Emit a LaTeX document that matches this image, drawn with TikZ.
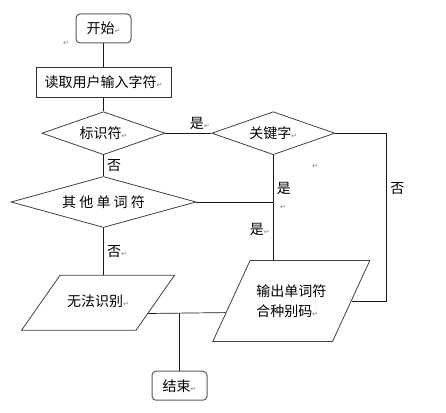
\documentclass[tikz,border=0pt]{standalone}
\usepackage{fontspec}
\setmainfont{Noto Sans CJK SC}
\newfontfamily\retfont{DejaVu Sans}
\usetikzlibrary{shapes.geometric, positioning}

\newcommand{\ret}{{\retfont\fontsize{7}{7}\selectfont\color{gray}\char"21B5}}

\tikzset{
    term/.style={rectangle, rounded corners=4pt, draw=black!65, line width=1pt,
        minimum width=55pt, minimum height=29pt},
    proc/.style={rectangle, draw=black!80, line width=0.8pt,
        minimum width=135pt, minimum height=30pt},
    dec/.style={diamond, aspect=2.8, inner sep=0pt, draw=black!75, line width=0.8pt},
    io/.style={trapezium, trapezium stretches body, draw=black!75, line width=0.8pt,
        inner xsep=2pt},
    flow/.style={draw=black!90, line width=0.7pt}
}

\begin{document}
\begin{tikzpicture}[x=1pt, y=-1pt, font=\fontsize{14}{20}\selectfont]
    \useasboundingbox (0,0) rectangle (446,412);
    % Add the nodes
        \node[term] (start) at (103.5,28.5) {开始\ret};
        \node[proc,
            below=23pt of start] (read) {读取用户输入字符\ret};
        \node[dec,
            below=14pt of read,
            minimum width=123pt,
            minimum height=43pt] (ident) {标识符\ret};
        \node[dec,
            right=46pt of ident,
            minimum width=123pt,
            minimum height=43pt] (keyw) {关键字\ret};
        \node[dec,
            below=21pt of ident,
            minimum width=185pt,
            minimum height=51pt] (other) {其 他 单 词 符};
        \node[io,
            below=47pt of other,
            xshift=-5.5pt,
            text height=10pt,
            text depth=3pt,
            inner ysep=21pt,
            trapezium left angle=55,
            trapezium right angle=125,
            minimum width=153pt,
            minimum height=55pt] (unknown) {无法识别\ret};
        \node[io,
            below=105pt of keyw,
            xshift=18pt,
            align=left,
            inner ysep=23.5pt,
            trapezium left angle=65,
            trapezium right angle=115,
            minimum width=157pt,
            minimum height=81pt] (output) {输出单词符\\合种别码\ret};
        \node[term,
            below=40pt of unknown,
            xshift=81.5pt] (stop) {结束\ret};

    % Stray paragraph marks
        \node (r1) at (66,43) {\ret};
        \node (r2) at (315,166) {\ret};
        \node (r3) at (283,207) {\ret};

    % Add the connectors
        \draw[flow] (start) -- (read);
        \draw[flow] (read) -- (ident);
        \draw[flow] (ident) -- node[right]{否} (other);
        \draw[flow] (other.south) -- node[right]{否\ret} (other.south |- unknown.north);
        \draw[flow] (ident) -- node[pos=.75, above]{是\ret} (keyw);
        \draw[flow] (keyw.south) -- node[pos=.32, right]{是}
            node[pos=.71, left]{是\ret} (keyw.south |- output.north);
        \draw[flow] (other.east) -- (other.east -| keyw.south);
        \draw[flow] (keyw.east) -| node[pos=.665, right]{否}
            ([xshift=35pt]output.east) -- (output.east);
        \draw[flow] (unknown.-12) -- (output.190);
        \draw[flow] (stop.north) -- (stop.north |- unknown.-12);
\end{tikzpicture}
\end{document}
